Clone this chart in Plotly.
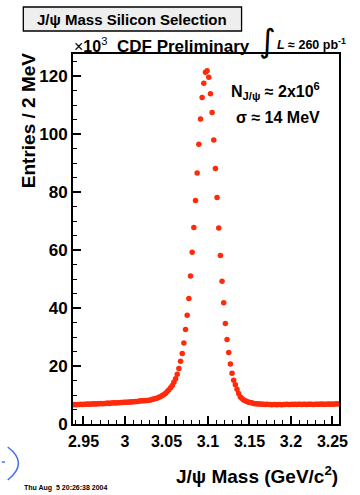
import plotly.graph_objects as go

# Histogram definition: 2 MeV bins, first bin centre (GeV/c^2)
first_bin_centre = 2.937
bin_width = 0.002

# Entries per 2 MeV bin, in units of 10^3
entries_k = [
    6.6, 6.7, 6.6, 6.7, 6.7, 6.8, 6.7, 6.8, 6.8, 6.9,
    6.8, 6.9, 6.9, 7.0, 6.9, 7.0, 7.0, 7.1, 7.0, 7.1,
    7.1, 7.2, 7.1, 7.2, 7.2, 7.3, 7.2, 7.3, 7.3, 7.4,
    7.4, 7.5, 7.5, 7.5, 7.6, 7.6, 7.7, 7.7, 7.8, 7.8,
    7.9, 7.9, 8.0, 8.0, 8.1, 8.1,
    8.2, 8.3, 8.5, 8.6, 8.8, 9.0, 9.2, 9.5, 9.8, 10.2,
    10.6, 11.2, 11.8, 12.5, 13.3, 14.4, 15.6, 17.2, 19.1, 21.6,
    24.3, 27.9, 32.6, 37.5, 43.3, 51.0, 59.2, 67.8, 77.1, 86.6,
    96.5, 105.2, 112.6, 117.5, 121.3, 121.8, 119.6, 113.9, 107.4, 97.9,
    88.1, 78.1, 67.6, 58.1, 49.2, 41.8, 34.7, 29.1, 24.7, 20.7,
    17.5, 15.1, 13.5, 12.0, 10.5, 9.3, 8.8, 8.3, 8.0, 7.8,
    7.5, 7.4, 7.3, 7.1, 7.0, 7.0, 6.9, 6.9, 6.8, 6.8,
    6.7, 6.8, 6.7, 6.7, 6.6, 6.7, 6.7, 6.6, 6.7, 6.7,
    6.6, 6.7, 6.7, 6.8, 6.7, 6.7, 6.8, 6.7, 6.8, 6.7,
    6.8, 6.8, 6.7, 6.8, 6.8, 6.7, 6.8, 6.8, 6.8, 6.7,
    6.8, 6.8, 6.8, 6.8, 6.9, 6.8, 6.8, 6.8, 6.9, 6.8,
    6.9, 6.8, 6.9, 7.0, 6.9,
]
mass = [round(first_bin_centre + bin_width * i, 3) for i in range(len(entries_k))]

x_tick_vals = [2.95, 3.0, 3.05, 3.1, 3.15, 3.2, 3.25]
x_tick_text = ["2.95", "3", "3.05", "3.1", "3.15", "3.2", "3.25"]
y_tick_vals = [0, 20, 40, 60, 80, 100, 120]
y_tick_text = ["0", "20", "40", "60", "80", "100", "120"]

FONT = "Liberation Sans, Arial, sans-serif"
W, H = 360, 495
L, R, T, B = 73, 14, 54, 71
PW, PH = W - L - R, H - T - B


def px(x):
    return (x - L) / PW


def py(y):
    return (H - B - y) / PH


fig = go.Figure()
fig.add_trace(go.Scatter(
    x=mass, y=entries_k, mode="markers",
    marker=dict(size=5.5, color="#ff2a0a", line=dict(width=0)),
    showlegend=False, hoverinfo="x+y",
))

axis_common = dict(
    showline=True, linecolor="black", linewidth=2, mirror=True,
    showgrid=False, zeroline=False,
    ticks="inside", ticklen=8, tickwidth=1.5, tickcolor="black",
)

fig.update_xaxes(
    range=[2.9374, 3.2579], tickmode="array",
    tickvals=x_tick_vals, ticktext=x_tick_text,
    tickfont=dict(family=FONT, size=16, color="black", weight="bold"),
    minor=dict(dtick=0.01, tick0=2.95, ticks="inside", ticklen=4,
               tickwidth=1.2, tickcolor="black"),
    ticklabelstandoff=2,
    **axis_common,
)
fig.update_yaxes(
    range=[0, 127.6], tickmode="array",
    tickvals=y_tick_vals, ticktext=y_tick_text,
    tickfont=dict(family=FONT, size=17, color="black", weight="bold"),
    minor=dict(dtick=5, tick0=0, ticks="inside", ticklen=4,
               tickwidth=1.2, tickcolor="black"),
    **axis_common,
)

annotations = [
    # title box text
    dict(x=px(134), y=py(19), text="J/ψ Mass Silicon Selection",
         font=dict(family=FONT, size=15, color="black", weight="bold"),
         xanchor="center", yanchor="middle"),
    dict(x=px(72), y=py(45), text="×<b>10</b><sup>3</sup>",
         font=dict(family=FONT, size=16, color="black"),
         xanchor="left", yanchor="middle"),
    dict(x=px(116), y=py(47), text="<b>CDF Preliminary</b>",
         font=dict(family=FONT, size=17, color="black"),
         xanchor="left", yanchor="middle"),
    dict(x=px(273), y=py(41), text="∫",
         font=dict(family="DejaVu Sans", size=32, color="black"),
         xanchor="center", yanchor="middle", borderpad=0),
    dict(x=px(354), y=py(44), text="<b><i>L</i> ≈ 260 pb<sup>-1</sup></b>",
         font=dict(family=FONT, size=12.5, color="black"),
         xanchor="right", yanchor="middle", borderpad=0),
    dict(x=px(281), y=py(91), text="<b>N<sub>J/ψ</sub> ≈ 2x10<sup>6</sup></b>",
         font=dict(family=FONT, size=16, color="black"),
         xanchor="center", yanchor="middle"),
    dict(x=px(283), y=py(117), text="<b>σ ≈ 14 MeV</b>",
         font=dict(family=FONT, size=16, color="black"),
         xanchor="center", yanchor="middle"),
    # axis titles
    dict(x=px(27), y=py(121), text="<b>Entries / 2 MeV</b>", textangle=-90,
         font=dict(family=FONT, size=19, color="black"),
         xanchor="center", yanchor="middle"),
    dict(x=px(347), y=py(475), text="<b>J/ψ Mass (GeV/c<sup>2</sup>)</b>",
         font=dict(family=FONT, size=19, color="black"),
         xanchor="right", yanchor="middle"),
    # date stamp
    dict(x=px(22), y=py(488), text="<b>Thu Aug\u00a0 5 20:26:38 2004</b>",
         font=dict(family=FONT, size=7, color="black"),
         xanchor="left", yanchor="middle", borderpad=0),
]
for a in annotations:
    a.update(xref="paper", yref="paper", showarrow=False)

shapes = [
    dict(type="rect", xref="paper", yref="paper",
         x0=px(22), x1=px(246), y0=py(31), y1=py(7),
         fillcolor="#eeeeee", line=dict(color="black", width=1.3), layer="below"),
    dict(type="path", xref="paper", yref="paper",
         path=f"M {px(6)},{py(447)} Q {px(28)},{py(463)} {px(6)},{py(480)}",
         line=dict(color="#3f6fef", width=1.5)),
    dict(type="line", xref="paper", yref="paper",
         x0=px(0), x1=px(3), y0=py(462), y1=py(462),
         line=dict(color="#3f6fef", width=1.5)),
]

fig.update_layout(
    width=W, height=H,
    margin=dict(l=L, r=R, t=T, b=B),
    paper_bgcolor="white", plot_bgcolor="white",
    annotations=annotations, shapes=shapes,
    showlegend=False,
)

fig.write_html(
    "out.html",
    config={"displayModeBar": False},
    post_script="document.body.style.margin='0';document.body.style.overflow='hidden';",
)
